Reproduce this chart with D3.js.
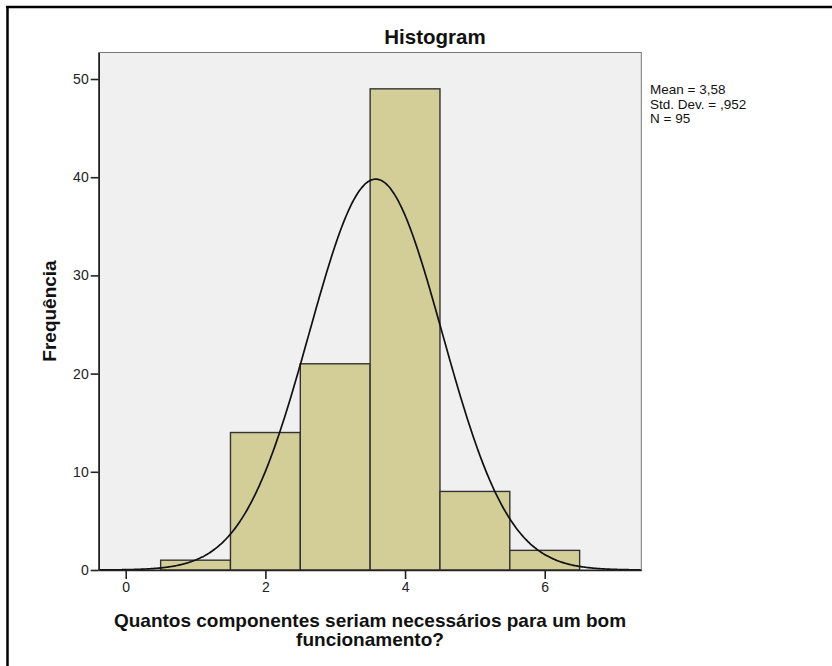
<!DOCTYPE html>
<html><head><meta charset="utf-8">
<script src="https://cdn.jsdelivr.net/npm/d3@7"></script>
<style>html,body{margin:0;padding:0;background:#fff;}svg{display:block;font-family:"Liberation Sans",Arial,sans-serif;}</style>
</head><body>
<svg id="c" width="832" height="666"></svg>
<script>
const binCenters = [1, 2, 3, 4, 5, 6];
const frequencies = [1, 14, 21, 49, 8, 2];
const yTicks = [0, 10, 20, 30, 40, 50];
const xTicks = [0, 2, 4, 6];
const statLabels = ["Mean = 3,58", "Std. Dev. = ,952", "N = 95"];
const mean = 3.58, sd = 0.952, nTotal = 95, binWidth = 1;

const svg = d3.select("#c");
const L = 98.7, R = 641.3, T = 52.5, B = 570;
const x = d3.scaleLinear().domain([-0.387, 7.383]).range([L, R]);
const y = d3.scaleLinear().domain([0, 52.7]).range([B, T]);

// outer frame (cropped)
svg.append("line").attr("x1",6).attr("x2",832).attr("y1",7).attr("y2",7).attr("stroke","#000").attr("stroke-width",2.5);
svg.append("line").attr("x1",7.5).attr("x2",7.5).attr("y1",6).attr("y2",666).attr("stroke","#000").attr("stroke-width",2.5);

// plot background
svg.append("rect").attr("x",L).attr("y",T).attr("width",R-L).attr("height",B-T).attr("fill","#f0f0f0").attr("stroke","#777").attr("stroke-width",1);

// bars
svg.append("g").selectAll("rect").data(binCenters).join("rect")
  .attr("x", (d)=>x(d-binWidth/2))
  .attr("width", (d)=>x(d+binWidth/2)-x(d-binWidth/2))
  .attr("y", (d,i)=>y(frequencies[i]))
  .attr("height", (d,i)=>y(0)-y(frequencies[i]))
  .attr("fill","#d3ce97").attr("stroke","#333").attr("stroke-width",1.4);

// normal curve from displayed stats
const xs = d3.range(-0.387, 7.383, 0.02);
const pdf = v => nTotal*binWidth*Math.exp(-0.5*((v-mean)/sd)**2)/(sd*Math.sqrt(2*Math.PI));
svg.append("path").datum(xs)
  .attr("d", d3.line().x(v=>x(v)).y(v=>y(pdf(v))).curve(d3.curveBasis))
  .attr("fill","none").attr("stroke","#111").attr("stroke-width",1.7);

// axes
const ya = svg.append("g").attr("transform",`translate(${L},0)`)
  .call(d3.axisLeft(y).tickValues(yTicks).tickSize(8).tickPadding(2).tickSizeOuter(0));
const xa = svg.append("g").attr("transform",`translate(0,${B})`)
  .call(d3.axisBottom(x).tickValues(xTicks).tickSize(9).tickPadding(3).tickSizeOuter(0));
[ya, xa].forEach(a=>{
  a.select(".domain").attr("stroke","#222").attr("stroke-width",1.6);
  a.selectAll(".tick line").attr("stroke","#222").attr("stroke-width",1.6);
  a.selectAll(".tick text").attr("font-family","Liberation Sans, Arial, sans-serif").attr("font-size",14).attr("fill","#222");
});

// title
svg.append("text").attr("x",435).attr("y",44).attr("text-anchor","middle")
  .attr("font-size",20.5).attr("font-weight","bold").attr("fill","#111").text("Histogram");

// stats
svg.append("g").selectAll("text").data(statLabels).join("text")
  .attr("x",650).attr("y",(d,i)=>94+i*14.5)
  .attr("font-size",13.5).attr("fill","#111").text(d=>d);

// axis titles
const xt = svg.append("text").attr("text-anchor","middle").attr("font-size",19).attr("font-weight","bold").attr("fill","#111");
xt.append("tspan").attr("x",370).attr("y",627).text("Quantos componentes seriam necessários para um bom");
xt.append("tspan").attr("x",370).attr("y",646).text("funcionamento?");

svg.append("text").attr("transform","translate(56,311) rotate(-90)").attr("text-anchor","middle")
  .attr("font-size",19).attr("font-weight","bold").attr("fill","#111").text("Frequência");
</script>
</body></html>
